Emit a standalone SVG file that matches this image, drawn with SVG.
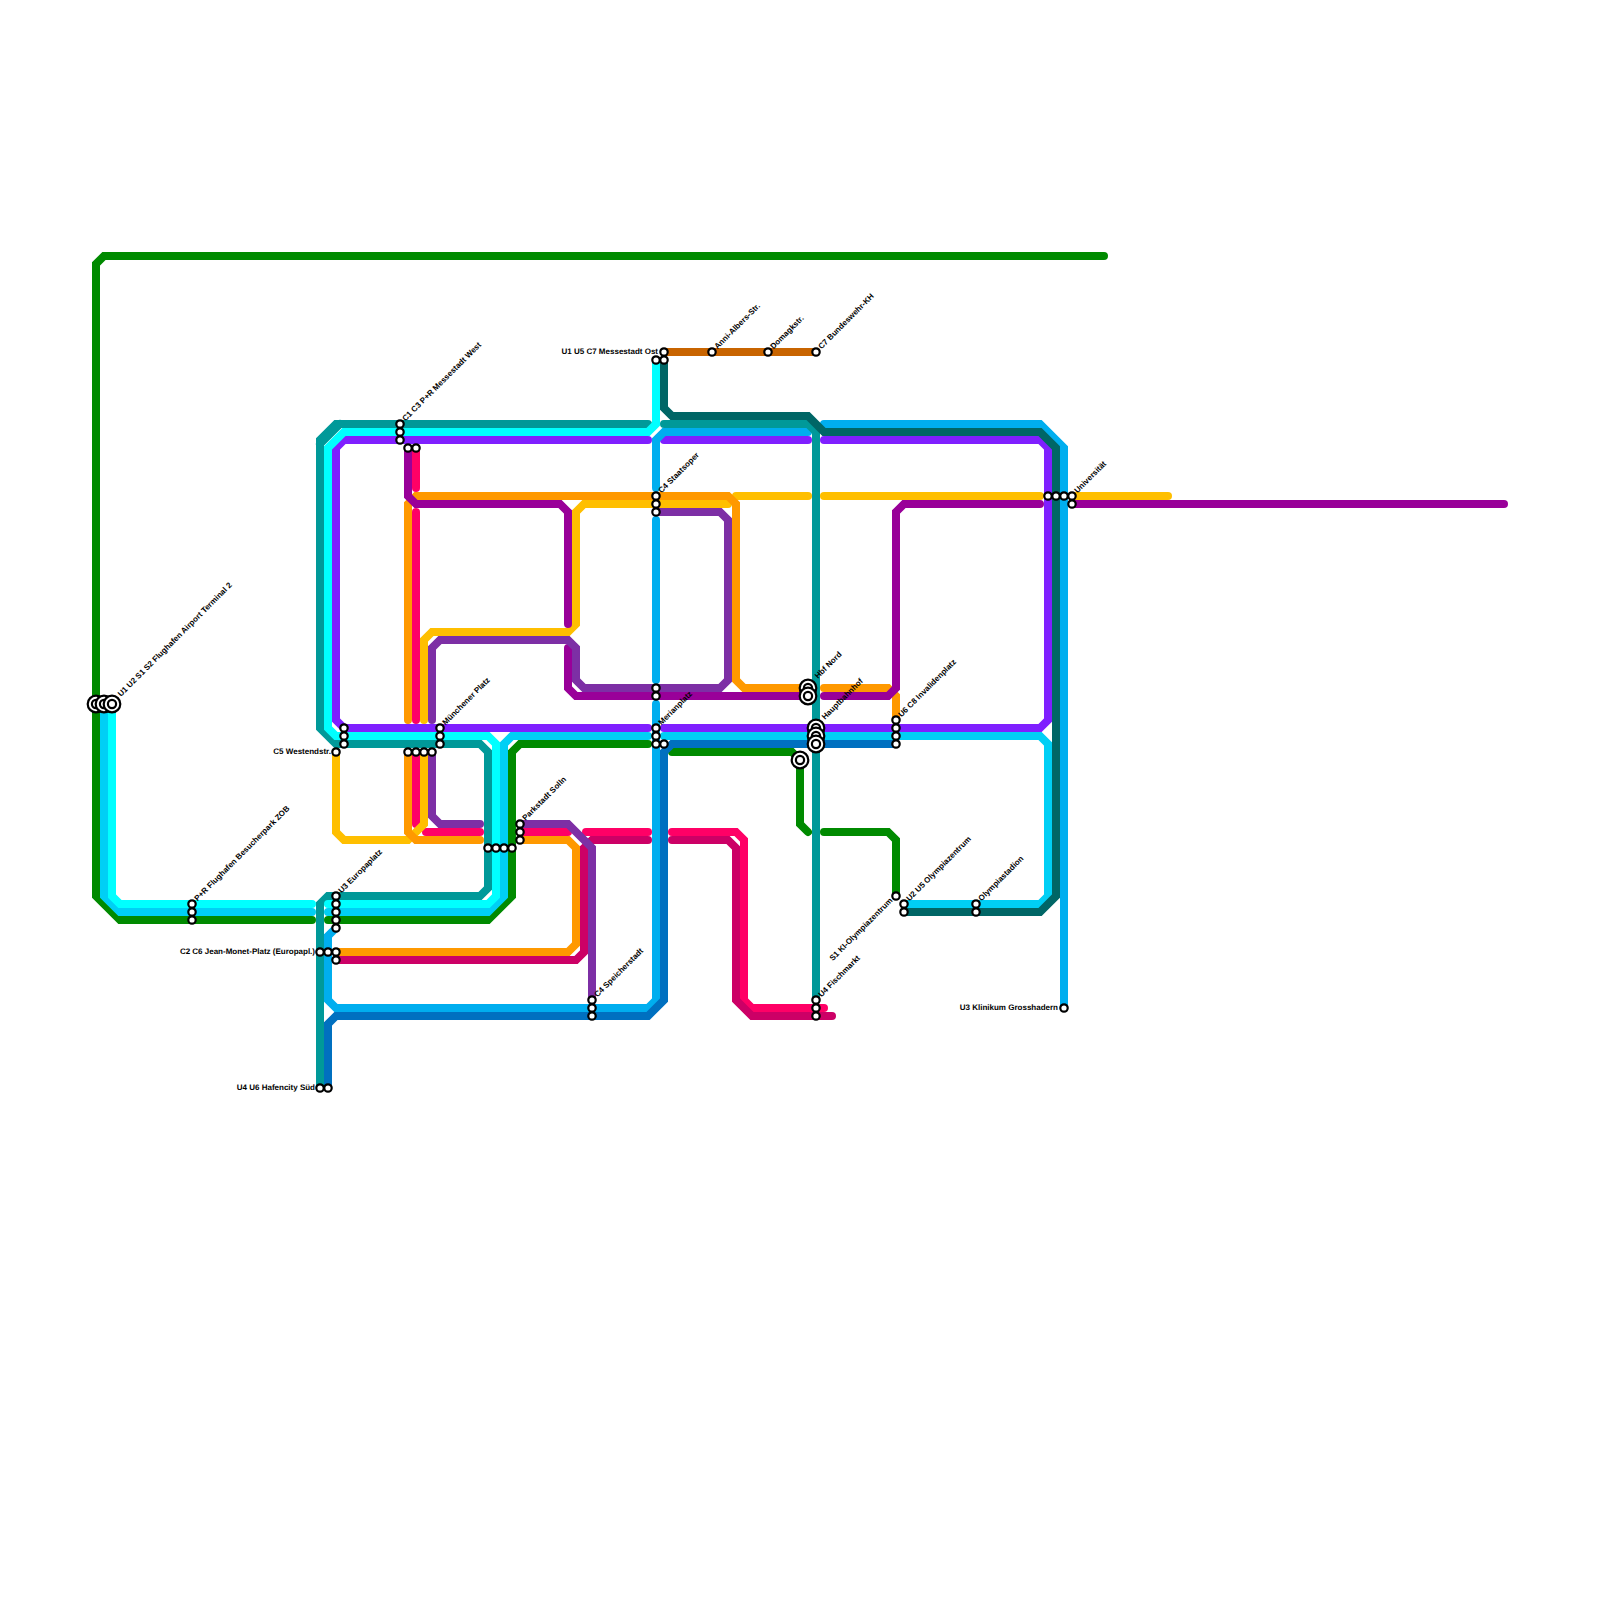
<svg xmlns="http://www.w3.org/2000/svg" width="1600" height="1600" viewBox="0 0 1600 1600">
<style>
text{font-family:"Liberation Sans",Arial,sans-serif;font-size:8px;font-weight:700;fill:#000;text-rendering:geometricPrecision}
.e{text-anchor:end}
#connectors path{fill:none;stroke-width:8;stroke-linecap:round;stroke-linejoin:miter}
.gr{stroke:#008a00}.te{stroke:#009999}.cy{stroke:#00ffff}.lb{stroke:#00cff5}.bl{stroke:#00aeef}.db{stroke:#0070c0}.dt{stroke:#006666}.vi{stroke:#7f1fff}.pu{stroke:#7d2fa5}.ma{stroke:#990099}.pi{stroke:#ff0066}.cr{stroke:#cc0066}.or{stroke:#ff9900}.ye{stroke:#ffbf00}.br{stroke:#c86400}
.s{fill:#fff;stroke:#000;stroke-width:2.2}
</style>
<defs>
<g id="big"><circle class="s" r="8.3"/><circle class="s" r="4.1"/></g>
<circle id="st" class="s" r="3.7"/>
</defs>
<rect width="1600" height="1600" fill="#fff"/>
<g id="connectors">
<path class="gr" d="M1104 256H104L96 264V896L120 920H312"/>
<path class="gr" d="M328 920H488L512 896V752L520 744H648"/>
<path class="gr" d="M672 752H792L800 760V824L808 832"/>
<path class="gr" d="M824 832H888L896 840V896"/>
<path class="lb" d="M104 704V896L120 912H312"/>
<path class="lb" d="M328 912H488L504 896V744L512 736H648"/>
<path class="lb" d="M664 736H1040L1048 744V896L1040 904H904"/>
<path class="vi" d="M648 440H344L336 448V720L344 728H648"/>
<path class="vi" d="M664 440H808"/>
<path class="vi" d="M664 728H808"/>
<path class="vi" d="M824 728H1040L1048 720V448L1040 440H824"/>
<path class="te" d="M648 424H336L320 440V728L336 744H480L488 752V888L480 896H328L320 904V1088"/>
<path class="te" d="M340 424L320 444"/>
<path class="cy" d="M656 360V424L648 432H344L328 448V728L336 736H488L496 744V896L488 904H328"/>
<path class="cy" d="M312 904H120L112 896V704"/>
<path class="bl" d="M808 432H664L656 440V488"/>
<path class="bl" d="M656 520V680"/>
<path class="bl" d="M656 704V1000L648 1008H336L328 1000V936L336 928"/>
<path class="bl" d="M824 424H1040L1064 448V1008"/>
<path class="db" d="M896 744H672L664 752V1000L648 1016H336L328 1024V1088"/>
<path class="te" d="M664 424H808L816 432V1000"/>
<path class="dt" d="M664 360V408L672 416H808L824 432H1040L1056 448V896L1040 912H904"/>
<path class="br" d="M664 352H816"/>
<path class="pi" d="M416 448V488"/>
<path class="pi" d="M416 512V720"/>
<path class="pi" d="M416 752V824"/>
<path class="pi" d="M426 832H480"/>
<path class="pi" d="M520 832H568"/>
<path class="pi" d="M586 832H648"/>
<path class="pi" d="M672 832H736L744 840V1000L752 1008H824"/>
<path class="cr" d="M672 840H728L736 848V1000L752 1016H832"/>
<path class="cr" d="M336 960H576L584 952V848L592 840H648"/>
<path class="ye" d="M424 720V640L432 632H568L576 624V512L584 504H728"/>
<path class="ye" d="M736 496H808"/>
<path class="ye" d="M824 496H1040"/>
<path class="ye" d="M1072 496H1168"/>
<path class="ye" d="M336 752V832L344 840H408L424 824V752"/>
<path class="or" d="M408 720V504L416 496H728L736 504V680L744 688H800"/>
<path class="or" d="M824 688H888L896 696V720"/>
<path class="or" d="M408 752V832L416 840H480"/>
<path class="or" d="M520 840H568L576 848V944L568 952H336"/>
<path class="ma" d="M408 448V496L416 504H560L568 512V624"/>
<path class="ma" d="M568 648V688L576 696H800"/>
<path class="ma" d="M824 696H888L896 688V512L904 504H1040"/>
<path class="ma" d="M1072 504H1504"/>
<path class="pu" d="M656 512H720L728 520V680L720 688H584L576 680V648L568 640H440L432 648V720"/>
<path class="pu" d="M432 752V816L440 824H480"/>
<path class="pu" d="M520 824H568L592 848V1000"/>
</g>
<g id="n-airport"><use href="#big" x="96" y="704"/><use href="#big" x="104" y="704"/><use href="#big" x="112" y="704"/><text transform="translate(121 697) rotate(-45)">U1 U2 S1 S2 Flughafen Airport Terminal 2</text></g>
<g id="n-zob"><use href="#st" x="192" y="904"/><use href="#st" x="192" y="912"/><use href="#st" x="192" y="920"/><text transform="translate(197.500 901.500) rotate(-45)">P+R Flughafen Besucherpark ZOB</text></g>
<g id="n-messewest"><use href="#st" x="400" y="424"/><use href="#st" x="400" y="432"/><use href="#st" x="400" y="440"/><text transform="translate(405.500 421.500) rotate(-45)">C1 C3 P+R Messestadt West</text></g>
<g id="n-x1"><use href="#st" x="408" y="448"/><use href="#st" x="416" y="448"/></g>
<g id="n-x2"><use href="#st" x="344" y="728"/><use href="#st" x="344" y="736"/><use href="#st" x="344" y="744"/></g>
<g id="n-westend"><use href="#st" x="336" y="752"/><text class="e" x="331" y="754">C5 Westendstr.</text></g>
<g id="n-x3"><use href="#st" x="408" y="752"/><use href="#st" x="416" y="752"/><use href="#st" x="424" y="752"/><use href="#st" x="432" y="752"/></g>
<g id="n-muenchener"><use href="#st" x="440" y="728"/><use href="#st" x="440" y="736"/><use href="#st" x="440" y="744"/><text transform="translate(445.500 725.500) rotate(-45)">Münchener Platz</text></g>
<g id="n-x4"><use href="#st" x="488" y="848"/><use href="#st" x="496" y="848"/><use href="#st" x="504" y="848"/><use href="#st" x="512" y="848"/></g>
<g id="n-solln"><use href="#st" x="520" y="824"/><use href="#st" x="520" y="832"/><use href="#st" x="520" y="840"/><text transform="translate(525.500 821) rotate(-45)">Parkstadt Solln</text></g>
<g id="n-europa"><use href="#st" x="336" y="896"/><use href="#st" x="336" y="904"/><use href="#st" x="336" y="912"/><use href="#st" x="336" y="920"/><use href="#st" x="336" y="928"/><text transform="translate(341.500 893.500) rotate(-45)">U3 Europaplatz</text></g>
<g id="n-monet"><use href="#st" x="320" y="952"/><use href="#st" x="328" y="952"/><use href="#st" x="336" y="952"/><use href="#st" x="336" y="960"/><text class="e" x="315" y="954">C2 C6 Jean-Monet-Platz (Europapl.)</text></g>
<g id="n-hafencity"><use href="#st" x="320" y="1088"/><use href="#st" x="328" y="1088"/><text class="e" x="315" y="1090">U4 U6 Hafencity Süd</text></g>
<g id="n-speicher"><use href="#st" x="592" y="1000"/><use href="#st" x="592" y="1008"/><use href="#st" x="592" y="1016"/><text transform="translate(597.500 997.500) rotate(-45)">C4 Speicherstadt</text></g>
<g id="n-messeost"><use href="#st" x="656" y="360"/><use href="#st" x="664" y="360"/><use href="#st" x="664" y="352"/><text class="e" x="658" y="354">U1 U5 C7 Messestadt Ost</text></g>
<g id="n-anni"><use href="#st" x="712" y="352"/><text transform="translate(717.500 349.500) rotate(-45)">Anni-Albers-Str.</text></g>
<g id="n-domagk"><use href="#st" x="768" y="352"/><text transform="translate(773.500 349.500) rotate(-45)">Domagkstr.</text></g>
<g id="n-bundeswehr"><use href="#st" x="816" y="352"/><text transform="translate(821.500 349.500) rotate(-45)">C7 Bundeswehr-KH</text></g>
<g id="n-staatsoper"><use href="#st" x="656" y="496"/><use href="#st" x="656" y="504"/><use href="#st" x="656" y="512"/><text transform="translate(661.500 493.500) rotate(-45)">C4 Staatsoper</text></g>
<g id="n-x5"><use href="#st" x="656" y="688"/><use href="#st" x="656" y="696"/></g>
<g id="n-merian"><use href="#st" x="656" y="728"/><use href="#st" x="656" y="736"/><use href="#st" x="656" y="744"/><use href="#st" x="664" y="744"/><text transform="translate(661.500 725.500) rotate(-45)">Merianplatz</text></g>
<g id="n-hbfnord"><use href="#big" x="808" y="688"/><use href="#big" x="808" y="696"/><text transform="translate(818 679) rotate(-45)">Hbf Nord</text></g>
<g id="n-hbf"><use href="#big" x="816" y="728"/><use href="#big" x="816" y="736"/><use href="#big" x="816" y="744"/><text transform="translate(825 720) rotate(-45)">Hauptbahnhof</text></g>
<g id="n-x6"><use href="#big" x="800" y="760"/></g>
<g id="n-invaliden"><use href="#st" x="896" y="720"/><use href="#st" x="896" y="728"/><use href="#st" x="896" y="736"/><use href="#st" x="896" y="744"/><text transform="translate(901.500 717.500) rotate(-45)">U6 C8 Invalidenplatz</text></g>
<g id="n-ki"><use href="#st" x="896" y="896"/><text class="e" transform="translate(893 901) rotate(-45)">S1 KI-Olympiazentrum</text></g>
<g id="n-olympiazentrum"><use href="#st" x="904" y="904"/><use href="#st" x="904" y="912"/><text transform="translate(909.500 901.500) rotate(-45)">U2 U5 Olympiazentrum</text></g>
<g id="n-stadion"><use href="#st" x="976" y="904"/><use href="#st" x="976" y="912"/><text transform="translate(981.500 901.500) rotate(-45)">Olympiastadion</text></g>
<g id="n-fisch"><use href="#st" x="816" y="1000"/><use href="#st" x="816" y="1008"/><use href="#st" x="816" y="1016"/><text transform="translate(821.500 997.500) rotate(-45)">U4 Fischmarkt</text></g>
<g id="n-klinikum"><use href="#st" x="1064" y="1008"/><text class="e" x="1058" y="1010">U3 Klinikum Grosshadern</text></g>
<g id="n-uni"><use href="#st" x="1048" y="496"/><use href="#st" x="1056" y="496"/><use href="#st" x="1064" y="496"/><use href="#st" x="1072" y="496"/><use href="#st" x="1072" y="504"/><text transform="translate(1077.500 493.500) rotate(-45)">Universität</text></g>
</svg>
